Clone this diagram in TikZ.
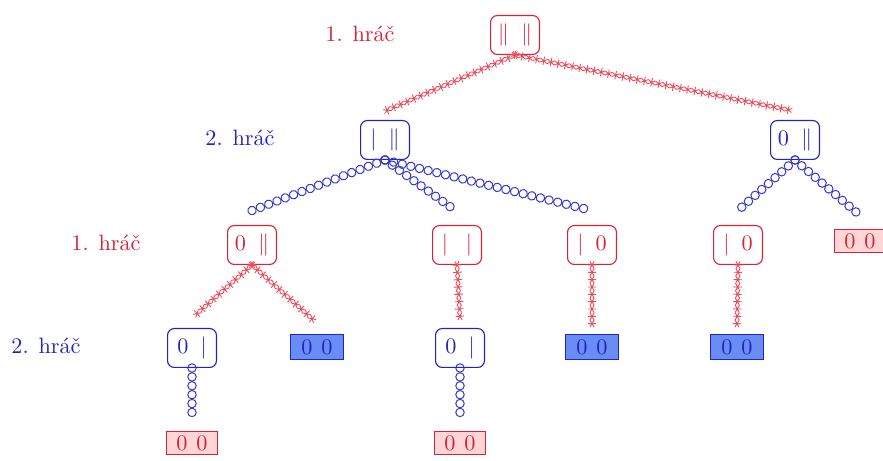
\documentclass[tikz,border=0pt]{standalone}
\usetikzlibrary{decorations.markings,plotmarks}

\definecolor{pred}{RGB}{215,35,55}
\definecolor{pblue}{RGB}{35,35,190}
\definecolor{starred}{RGB}{238,75,90}
\definecolor{ringblue}{RGB}{55,55,210}
\definecolor{leafblue}{RGB}{105,140,245}
\definecolor{leafpink}{RGB}{255,214,214}

\tikzset{
  % positions are given in pixel-like units
  x=0.45pt, y=-0.45pt,
  % decision nodes of the two players
  pone/.style={draw=pred, text=pred, line width=0.5pt, rounded corners=3pt,
    minimum width=22pt, minimum height=17.5pt, inner sep=1pt},
  ptwo/.style={draw=pblue, text=pblue, line width=0.5pt, rounded corners=3pt,
    minimum width=22pt, minimum height=17.5pt, inner sep=1pt},
  % terminal positions
  leafred/.style={draw=pred, fill=leafpink, text=pred, line width=0.5pt,
    minimum width=23pt, minimum height=10.5pt, inner sep=1pt},
  leafblu/.style={draw=pblue, fill=leafblue, text=pblue, line width=0.5pt,
    minimum width=24pt, minimum height=11pt, inner sep=1pt},
  lblone/.style={text=pred},
  lbltwo/.style={text=pblue},
  % moves: a chain of asterisks for player 1, a chain of rings for player 2
  moveone/.style={postaction={decorate}, decoration={markings,
    mark=between positions 0 and 1 step 3.3pt with {%
      \pgfsetstrokecolor{starred}\pgfsetlinewidth{0.4pt}%
      \pgfsetplotmarksize{1.9pt}\pgfuseplotmark{asterisk}}}},
  movetwo/.style={postaction={decorate}, decoration={markings,
    mark=between positions 0 and 1 step 4pt with {%
      \draw[ringblue, line width=0.45pt] (0,0) circle (1.9pt);}}},
}

\newcommand{\gp}{\hspace{5.5pt}}

\begin{document}
\begin{tikzpicture}
\useasboundingbox (0,0) rectangle (883,461);

% player labels
\node[lblone] (la) at (360,34)  {1. hráč};
\node[lbltwo] (lb) at (240,138) {2. hráč};
\node[lblone] (lc) at (106,243) {1. hráč};
\node[lbltwo] (ld) at (46,346)  {2. hráč};

% level 1
\node[pone] (r) at (515,35) {$\|\gp\|$};

% level 2
\node[ptwo] (a) at (385,140) {$|\gp\|$};
\node[ptwo] (b) at (795,140) {$0\gp\|$};

% level 3
\node[pone] (aa) at (252,245) {$0\gp\|$};
\node[pone] (ab) at (457,245) {$|\hspace{8pt}|$};
\node[pone] (ac) at (592,245) {$|\gp 0$};
\node[pone] (ba) at (738,245) {$|\gp 0$};
\node[leafred] (bb) at (860,241) {0\hspace{4pt}0};

% level 4
\node[ptwo] (aaa) at (192,348) {$0\gp|$};
\node[leafblu] (aab) at (317,347) {0\hspace{4pt}0};
\node[ptwo] (aba) at (460,348) {$0\gp|$};
\node[leafblu] (aca) at (592,347) {0\hspace{4pt}0};
\node[leafblu] (baa) at (737,347) {0\hspace{4pt}0};

% level 5
\node[leafred] (aaaa) at (192,443) {0\hspace{4pt}0};
\node[leafred] (abaa) at (460,443) {0\hspace{4pt}0};

% moves of player 1
\path[moveone] (r.south) -- ([yshift=4pt]a.north);
\path[moveone] (r.south) -- ([yshift=4pt]b.north);
\path[moveone] (aa.south) -- ([yshift=4.5pt]aaa.north);
\path[moveone] (aa.south) -- ([yshift=5pt]aab.north);
\path[moveone] (ab.south) -- ([yshift=4pt]aba.north);
\path[moveone] (ac.south) -- ([yshift=4.5pt]aca.north);
\path[moveone] (ba.south) -- ([yshift=4.5pt]baa.north);

% moves of player 2
\path[movetwo] (a.south) -- ([yshift=6.5pt]aa.north);
\path[movetwo] (a.south) -- ([yshift=6pt]ab.north);
\path[movetwo] (a.south) -- ([yshift=6.5pt]ac.north);
\path[movetwo] (b.south) -- ([yshift=6.5pt]ba.north);
\path[movetwo] (b.south) -- ([yshift=6pt]bb.north);
\path[movetwo] (aaa.south) -- ([yshift=4.5pt]aaaa.north);
\path[movetwo] (aba.south) -- ([yshift=4.5pt]abaa.north);
\end{tikzpicture}
\end{document}
